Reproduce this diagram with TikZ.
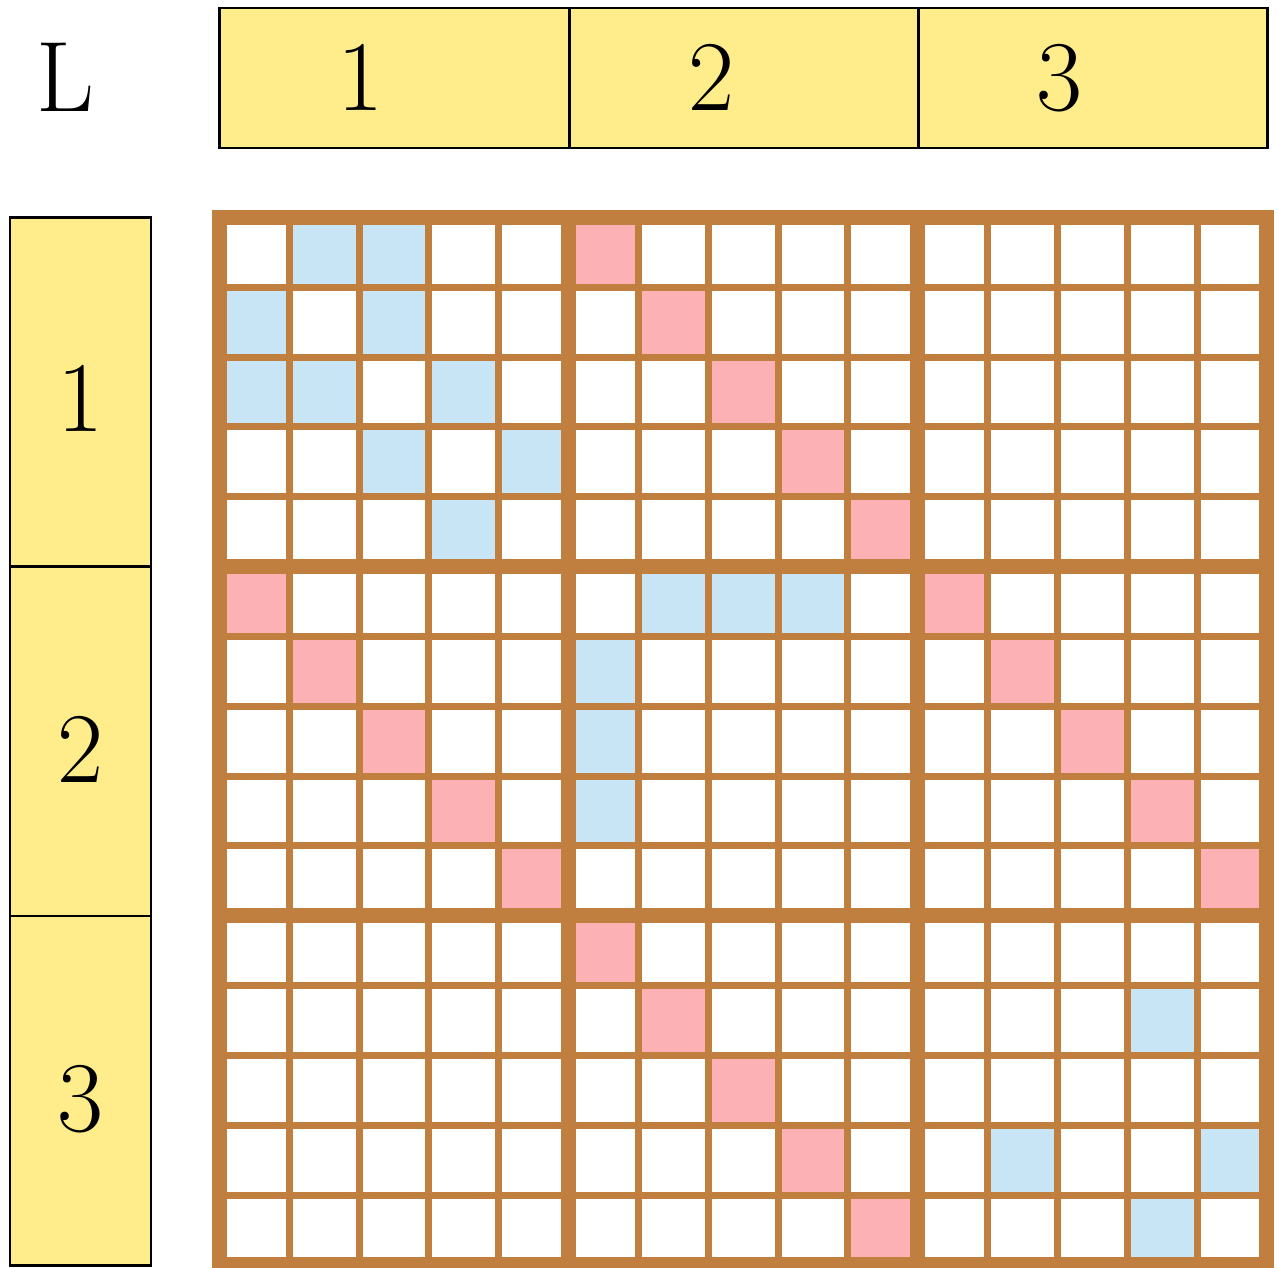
\documentclass[tikz,border=0pt]{standalone}
\usetikzlibrary{positioning}
\definecolor{boxyellow}{RGB}{255,237,140}
\definecolor{gridbrown}{RGB}{192,127,62}
\definecolor{cellblue}{RGB}{199,229,244}
\definecolor{cellpink}{RGB}{252,177,180}
\tikzset{
    toplbl/.style={draw, thick, fill=boxyellow, inner sep=0pt, outer sep=0pt,
        minimum width=3.493cm, minimum height=1.4cm},
    sidelbl/.style={draw, thick, fill=boxyellow, inner sep=0pt, outer sep=0pt,
        minimum width=1.41cm, minimum height=3.493cm},
    lbltext/.style={font=\fontsize{28.5}{34}\selectfont, anchor=base, inner sep=0pt},
    thinline/.style={gridbrown, line width=0.07cm},
    thickline/.style={gridbrown, line width=0.15cm, line cap=rect}
}
\def\gx{2.195}
\def\gy{2.175}
\def\cs{0.6983}

\begin{document}
\begin{tikzpicture}[x=1cm, y=-1cm]
\useasboundingbox (0,0) rectangle (12.79,12.68);
% label boxes
\node[toplbl] (top1) at (3.945,0.78) {};
\node[toplbl, right=0pt of top1] (top2) {};
\node[toplbl, right=0pt of top2] (top3) {};
\node[sidelbl] (side1) at (0.805,3.92) {};
\node[sidelbl, below=0pt of side1] (side2) {};
\node[sidelbl, below=0pt of side2] (side3) {};
\node[lbltext] (lname) at (0.655,1.12) {L};
\node[lbltext] (tnum1) at (3.60,1.11) {1};
\node[lbltext] (tnum2) at (7.11,1.11) {2};
\node[lbltext] (tnum3) at (10.59,1.11) {3};
\node[lbltext] (snum1) at (0.80,4.32) {1};
\node[lbltext] (snum2) at (0.80,7.82) {2};
\node[lbltext] (snum3) at (0.80,11.31) {3};
% coloured cells (column/row)
\foreach \c/\r in {1/0,2/0,0/1,2/1,0/2,1/2,3/2,2/3,4/3,3/4,6/5,7/5,8/5,5/6,5/7,5/8,
    13/11,11/13,14/13,13/14}
    \fill[cellblue] ({\gx+\c*\cs},{\gy+\r*\cs}) rectangle ++(\cs,\cs);
\foreach \c/\r in {5/0,6/1,7/2,8/3,9/4,0/5,10/5,1/6,11/6,2/7,12/7,3/8,13/8,4/9,14/9,
    5/10,6/11,7/12,8/13,9/14}
    \fill[cellpink] ({\gx+\c*\cs},{\gy+\r*\cs}) rectangle ++(\cs,\cs);
% grid
\foreach \i in {0,...,15} {
    \draw[thinline] ({\gx+\i*\cs},\gy) -- ++(0,{15*\cs});
    \draw[thinline] (\gx,{\gy+\i*\cs}) -- ++({15*\cs},0);
}
\foreach \i in {0,5,10,15} {
    \draw[thickline] ({\gx+\i*\cs},\gy) -- ++(0,{15*\cs});
    \draw[thickline] (\gx,{\gy+\i*\cs}) -- ++({15*\cs},0);
}
\end{tikzpicture}
\end{document}
